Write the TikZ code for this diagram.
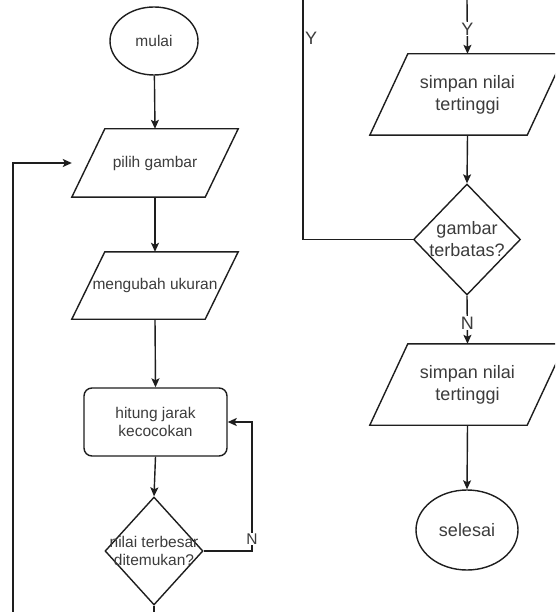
\documentclass[tikz,border=0pt]{standalone}
\usepackage{fontspec}
\setmainfont{Liberation Sans}
\usetikzlibrary{shapes.geometric,arrows.meta}
\definecolor{ink}{RGB}{30,30,30}
\definecolor{txt}{RGB}{60,60,60}
\newcommand{\parashape}[2]{\draw[line] ([xshift=#2]#1.north west) -- (#1.north east) -- ([xshift=-#2]#1.south east) -- (#1.south west) -- cycle;}
\tikzset{
  line/.style={draw=ink, line width=1.4pt},
  arr/.style={line, -{Stealth[length=9pt,width=8pt,inset=2pt]}},
  lt/.style={font=\fontsize{15.5}{18}\selectfont, text=txt, align=center},
  rt/.style={font=\fontsize{18}{22}\selectfont, text=txt, align=center},
  term/.style={ellipse, line, inner sep=0pt},
  iobox/.style={rectangle, inner sep=0pt},
  procbox/.style={rectangle, rounded corners=8pt, line, inner sep=0pt},
  dec/.style={diamond, line, inner sep=0pt},
  lab/.style={fill=white, inner sep=1pt, text=txt}
}
\begin{document}
\begin{tikzpicture}[x=1pt,y=-1pt]
\useasboundingbox (0,0) rectangle (555,612);
\clip (0,0) rectangle (555,612);
\fill[white] (0,0) rectangle (555,612);

% ---------- left column ----------
\node[term, lt, minimum width=88pt, minimum height=68pt] (mulai) at (154,41) {mulai};
\node[iobox, lt, minimum width=166pt, minimum height=68pt] (pilih) at (155,163) {pilih gambar};
\parashape{pilih}{33pt}
\node[iobox, lt, minimum width=166pt, minimum height=67pt] (ubah) at (155,285.5) {mengubah ukuran};
\parashape{ubah}{33pt}
\node[procbox, lt, minimum width=143pt, minimum height=68pt] (hitung) at (155.5,422) {hitung jarak\\kecocokan};
\node[dec, minimum width=98pt, minimum height=108pt] (d1) at (154,551) {};
\node[lt] (d1t) at (d1) {nilai terbesar\\ditemukan?};

\draw[arr] (mulai) -- (pilih.north);
\draw[arr] (pilih.south) -- (ubah.north);
\draw[arr] (ubah.south) -- (hitung.north);
\draw[arr] (hitung.south) -- (d1.north);

\coordinate (nc) at (252,551);
\draw[arr] (d1.east) -- (nc) |- (hitung.east);
\node[lab, lt] (nlab1) at (252,539) {N};

\coordinate (d1out) at (154,612);
\draw[line] (d1.south) -- (d1out);

\coordinate (lb) at (13,612);
\draw[arr] (lb) |- (pilih.west);

% ---------- right column ----------
\node[iobox, rt, minimum width=195pt, minimum height=81pt] (s1) at (467.5,94.5) {simpan nilai\\tertinggi};
\parashape{s1}{38pt}
\node[dec, minimum width=107pt, minimum height=111pt] (d2) at (467,239.5) {};
\node[rt] (d2t) at (d2) {gambar\\terbatas?};
\node[iobox, rt, minimum width=195pt, minimum height=81pt] (s2) at (467.5,384.5) {simpan nilai\\tertinggi};
\parashape{s2}{38pt}
\node[term, rt, minimum width=102pt, minimum height=80pt] (selesai) at (467,530) {selesai};

\coordinate (yt1) at (303,0);
\draw[line] (yt1) |- (d2.west);
\node[rt, anchor=west, inner sep=1pt] (ylab1) at (304,38) {Y};

\coordinate (yt2) at (467,0);
\draw[arr] (yt2) -- (s1.north) node[lab, rt, pos=0.54] (ylab2) {Y};
\draw[arr] (s1.south) -- (d2.north);
\draw[arr] (d2.south) -- (s2.north) node[lab, rt, pos=0.57] (nlab2) {N};
\draw[arr] (s2.south) -- (selesai.north);
\end{tikzpicture}
\end{document}
